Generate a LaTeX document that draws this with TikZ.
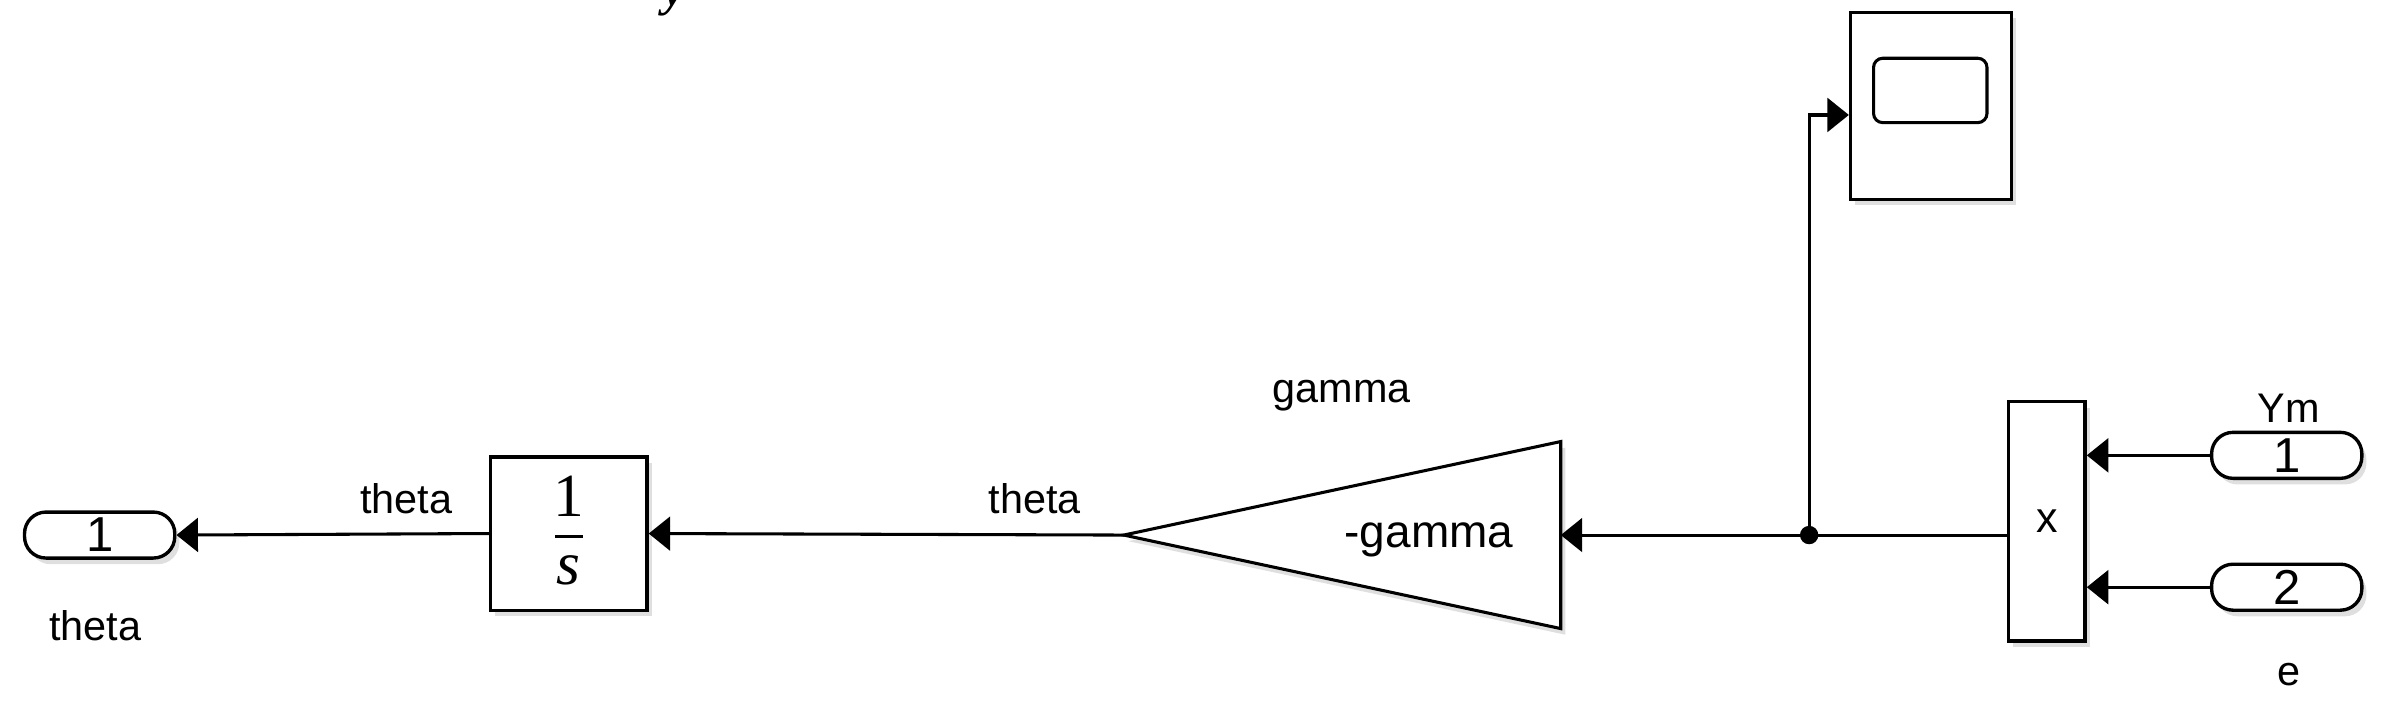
\documentclass[tikz,border=0pt]{standalone}
\usepackage{fontspec}
\setmainfont{Liberation Sans}
\newfontfamily\serifx{Liberation Serif}
\usetikzlibrary{arrows.meta,shadows}
\begin{document}
\begin{tikzpicture}[x=1pt,y=1pt,
  blk/.style={draw,line width=1.1pt,fill=white,inner sep=0pt,drop shadow={opacity=0.25,shadow xshift=1.5pt,shadow yshift=-2pt}},
  port/.style={blk,rounded corners=7pt,minimum width=49pt,minimum height=15pt,font=\fontsize{16}{18}\selectfont},
  sig/.style={line width=1pt,-{Triangle[length=7pt,width=11pt]}},
  lbl/.style={font=\fontsize{13.5}{15}\selectfont},
  every node/.append style={font=\fontsize{14}{16}\selectfont}]
\useasboundingbox (0,0) rectangle (784,-237);
\node[port] (out) at (32.5,-174.5) {1};
\node[lbl] at (31,-204) {theta};
\node[blk,minimum width=51pt,minimum height=50pt] (int) at (185.5,-174) {};
\node[font=\serifx\fontsize{20}{22}\selectfont] (num) at (185.5,-162) {1};
\draw[line width=1.1pt] (181,-175) -- (190,-175);
\node[font=\serifx\itshape\fontsize{20}{22}\selectfont] (den) at (185.5,-186) {s};
\node[lbl] at (132.5,-162.5) {theta};
\node[lbl] at (337.5,-162.5) {theta};
\draw[blk,line width=1pt] (366.5,-174.5) -- (509,-144) -- (509,-205) -- cycle;
\coordinate (gout) at (366.5,-174.5);
\coordinate (gin) at (509,-174.5);
\node[font=\fontsize{15}{17}\selectfont] at (466,-176) {-gamma};
\node[lbl] at (437.5,-129) {gamma};
\node[blk,minimum width=52.5pt,minimum height=61pt] (scope) at (629.75,-34.5) {};
\draw[line width=1pt,rounded corners=3pt] (611,-19) rectangle (648,-40);
\node[blk,minimum width=25pt,minimum height=78pt] (prod) at (667.5,-170) {x};
\node[port] (in1) at (745.75,-148.5) {1};
\node[port] (in2) at (745.75,-191.5) {2};
\node[lbl] at (746.5,-133) {Ym};
\node[lbl] at (746.5,-220) {e};
\node[font=\serifx\bfseries\itshape\fontsize{16}{18}\selectfont] at (220,0) {y};
\coordinate (br) at (590,-174.5);
\fill (br) circle (3pt);
\draw[sig] (int.west) -- (out.east);
\draw[sig] (gout) -- (int.east);
\draw[sig] (br) -- (gin);
\draw[line width=1pt] (prod.west |- br) -- (br);
\draw[sig] (br) |- (scope.west |- 0,-37.5);
\draw[sig] (in1.west) -- (prod.east |- in1.west);
\draw[sig] (in2.west) -- (prod.east |- in2.west);
\end{tikzpicture}
\end{document}
